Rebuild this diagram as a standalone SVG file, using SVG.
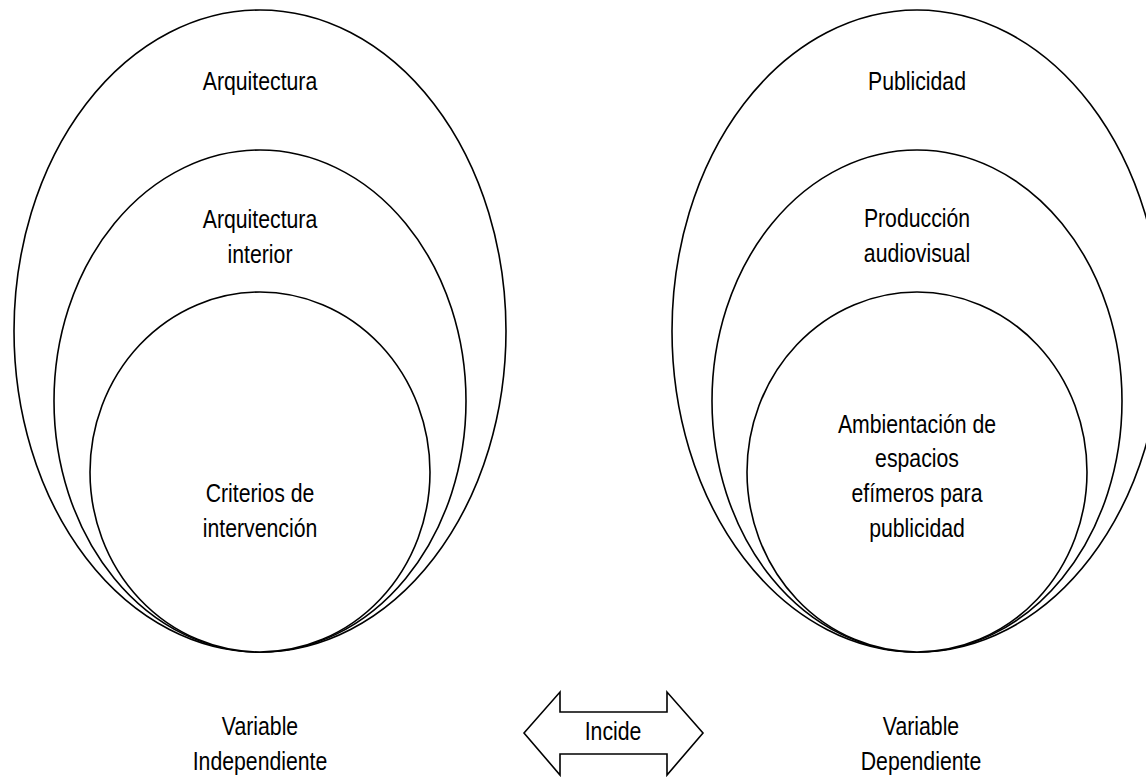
<svg xmlns="http://www.w3.org/2000/svg" width="1146" height="782" viewBox="0 0 1146 782">
<style>
  .sh { fill: #fff; stroke: #000; stroke-width: 1.6; }
  .t { font-family: "Liberation Sans", Arial, sans-serif; font-size: 25px; fill: #000; text-anchor: middle; }
</style>
<rect width="1146" height="782" fill="#fff"/>
<g id="izquierda-arquitectura">
  <ellipse class="sh" cx="260" cy="331" rx="246" ry="321"/>
  <text class="t" transform="translate(260,90) scale(0.85,1)">Arquitectura</text>
</g>
<g id="izquierda-arquitectura-interior">
  <ellipse class="sh" cx="260" cy="401" rx="206" ry="251"/>
  <text class="t" transform="translate(260,228) scale(0.85,1)">Arquitectura</text>
  <text class="t" transform="translate(260,263) scale(0.85,1)">interior</text>
</g>
<g id="izquierda-criterios">
  <ellipse class="sh" cx="260" cy="472" rx="170" ry="180"/>
  <text class="t" transform="translate(260,502) scale(0.85,1)">Criterios de</text>
  <text class="t" transform="translate(260,537) scale(0.85,1)">intervención</text>
</g>
<g id="derecha-publicidad">
  <ellipse class="sh" cx="917" cy="331" rx="245" ry="321"/>
  <text class="t" transform="translate(917,90) scale(0.85,1)">Publicidad</text>
</g>
<g id="derecha-produccion">
  <ellipse class="sh" cx="917" cy="401" rx="205" ry="251"/>
  <text class="t" transform="translate(917,227) scale(0.85,1)">Producción</text>
  <text class="t" transform="translate(917,262) scale(0.85,1)">audiovisual</text>
</g>
<g id="derecha-ambientacion">
  <ellipse class="sh" cx="917" cy="472" rx="170" ry="180"/>
  <text class="t" transform="translate(917,433) scale(0.85,1)">Ambientación de</text>
  <text class="t" transform="translate(917,467) scale(0.85,1)">espacios</text>
  <text class="t" transform="translate(917,502) scale(0.85,1)">efímeros para</text>
  <text class="t" transform="translate(917,537) scale(0.85,1)">publicidad</text>
</g>
<g id="variable-independiente">
  <text class="t" transform="translate(260,735) scale(0.85,1)">Variable</text>
  <text class="t" transform="translate(260,770) scale(0.85,1)">Independiente</text>
</g>
<g id="variable-dependiente">
  <text class="t" transform="translate(921,735) scale(0.85,1)">Variable</text>
  <text class="t" transform="translate(921,770) scale(0.85,1)">Dependiente</text>
</g>
<g id="conectores">
  <g id="incide">
    <polygon class="sh" points="524,733 560,692 560,712 667,712 667,692 703,733 667,775 667,754 560,754 560,775"/>
    <text class="t" transform="translate(613,740) scale(0.85,1)">Incide</text>
  </g>
</g>
</svg>
